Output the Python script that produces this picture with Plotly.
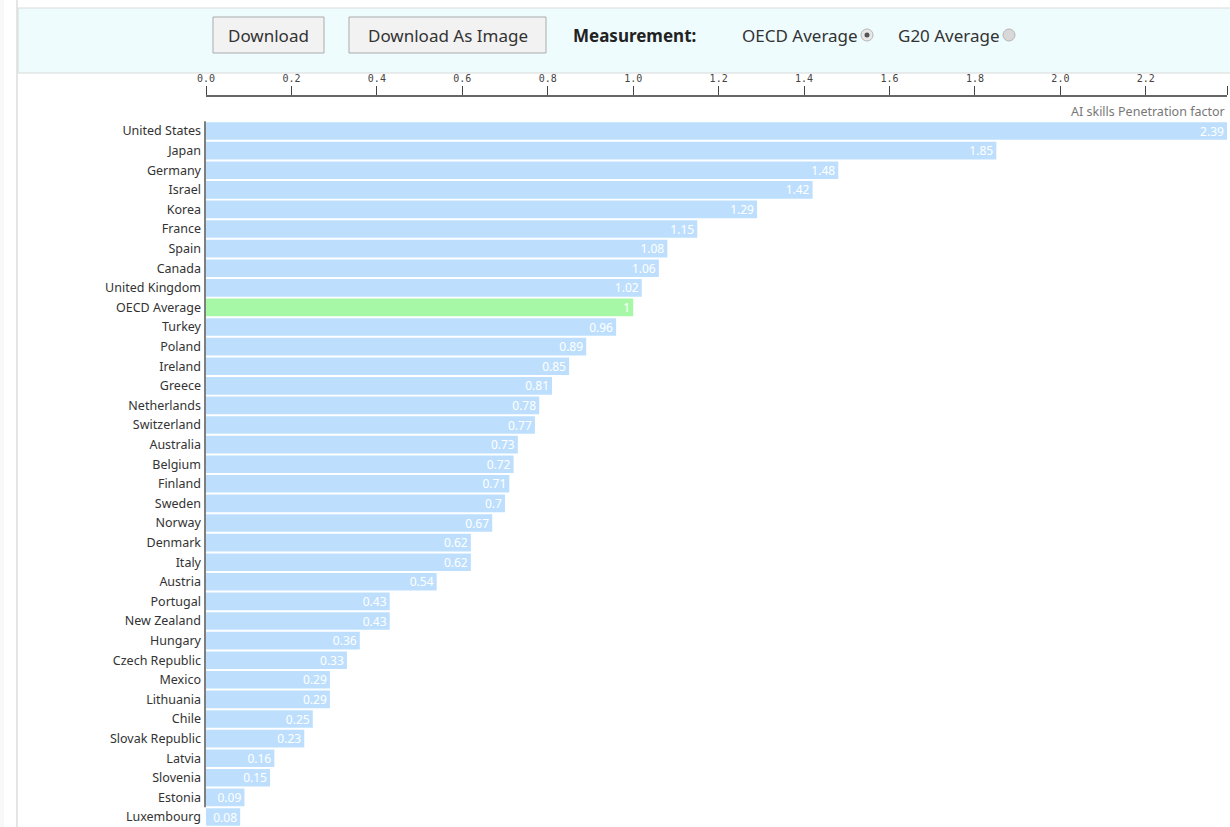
import plotly.graph_objects as go

countries = ["United States", "Japan", "Germany", "Israel", "Korea", "France", "Spain", "Canada",
             "United Kingdom", "OECD Average", "Turkey", "Poland", "Ireland", "Greece", "Netherlands",
             "Switzerland", "Australia", "Belgium", "Finland", "Sweden", "Norway", "Denmark", "Italy",
             "Austria", "Portugal", "New Zealand", "Hungary", "Czech Republic", "Mexico", "Lithuania",
             "Chile", "Slovak Republic", "Latvia", "Slovenia", "Estonia", "Luxembourg"]
values = [2.39, 1.85, 1.48, 1.42, 1.29, 1.15, 1.08, 1.06, 1.02, 1, 0.96, 0.89, 0.85, 0.81, 0.78,
          0.77, 0.73, 0.72, 0.71, 0.7, 0.67, 0.62, 0.62, 0.54, 0.43, 0.43, 0.36, 0.33, 0.29, 0.29,
          0.25, 0.23, 0.16, 0.15, 0.09, 0.08]
value_labels = ["2.39", "1.85", "1.48", "1.42", "1.29", "1.15", "1.08", "1.06", "1.02", "1", "0.96",
                "0.89", "0.85", "0.81", "0.78", "0.77", "0.73", "0.72", "0.71", "0.7", "0.67", "0.62",
                "0.62", "0.54", "0.43", "0.43", "0.36", "0.33", "0.29", "0.29", "0.25", "0.23", "0.16",
                "0.15", "0.09", "0.08"]
tick_vals = [0.0, 0.2, 0.4, 0.6, 0.8, 1.0, 1.2, 1.4, 1.6, 1.8, 2.0, 2.2, 2.39]
tick_text = ["0.0", "0.2", "0.4", "0.6", "0.8", "1.0", "1.2", "1.4", "1.6", "1.8", "2.0", "2.2", ""]
axis_title = "AI skills Penetration factor"
highlight = "OECD Average"

W, H = 1230, 827
L, R, T, B = 206, 3, 97, 0
PW, PH = W - L - R, H - T - B


def px(x):
    return (x - L) / PW


def py(y):
    return 1 - (y - T) / PH


colors = ["#A6F8A6" if c == highlight else "#BDDFFD" for c in countries]

fig = go.Figure(go.Bar(
    x=values, y=countries, orientation="h",
    marker=dict(color=colors, line=dict(width=0)),
    width=0.9,
    text=value_labels, textposition="inside", insidetextanchor="end", textangle=0,
    textfont=dict(color="white", size=12, family="Noto Sans"),
    constraintext="none", cliponaxis=True, hoverinfo="x+y",
))

fig.update_layout(
    width=W, height=H,
    margin=dict(l=L, r=R, t=T, b=B, pad=0),
    paper_bgcolor="white", plot_bgcolor="white",
    showlegend=False,
    font=dict(family="Noto Sans", color="#333"),
    xaxis=dict(
        side="top", range=[0, 2.39], tickvals=tick_vals, ticktext=tick_text,
        ticks="outside", ticklen=9, tickwidth=1, tickcolor="#444",
        showline=True, linecolor="#666", linewidth=1.5,
        showgrid=False, zeroline=False,
        tickfont=dict(family="DejaVu Sans Mono", size=10, color="#444"),
    ),
    yaxis=dict(
        type="category", categoryorder="array", categoryarray=countries,
        range=[35.51, -1.735], showgrid=False, zeroline=False, showline=False,
        ticks="", ticklabelstandoff=4,
        tickfont=dict(family="Noto Sans", size=12.5, color="#333"),
    ),
)

shapes = []
shapes.append(dict(type="rect", xref="paper", yref="paper", x0=px(0), x1=px(4), y0=py(0), y1=py(H),
                   fillcolor="#F8F8F8", line=dict(width=0), layer="below"))
shapes.append(dict(type="line", xref="paper", yref="paper", x0=px(17), x1=px(17), y0=py(0), y1=py(H + 5),
                   line=dict(color="#DDDDDD", width=1.5)))
# toolbar box
shapes.append(dict(type="rect", xref="paper", yref="paper", x0=px(18), x1=px(1240), y0=py(8), y1=py(73),
                   fillcolor="#EEFCFE", line=dict(color="#DADADA", width=1)))
# buttons
for x0, x1 in [(213, 324), (349, 546)]:
    shapes.append(dict(type="rect", xref="paper", yref="paper", x0=px(x0), x1=px(x1), y0=py(17), y1=py(53),
                       fillcolor="#F2F2F2", line=dict(color="#ABABAB", width=1)))
# radio buttons
for cx, checked in [(867, True), (1009, False)]:
    shapes.append(dict(type="circle", xref="paper", yref="paper", x0=px(cx - 6), x1=px(cx + 6),
                       y0=py(29), y1=py(41), fillcolor="#E8E8E8" if checked else "#D8D8D8",
                       line=dict(color="#B5B5B5", width=1)))
    if checked:
        shapes.append(dict(type="circle", xref="paper", yref="paper", x0=px(cx - 2.5), x1=px(cx + 2.5),
                           y0=py(32.5), y1=py(37.5), fillcolor="#555555", line=dict(width=0)))
# y-axis line
shapes.append(dict(type="line", xref="paper", yref="y", x0=px(205), x1=px(205), y0=-0.5, y1=34.5,
                   line=dict(color="#555555", width=1.5)))
fig.update_layout(shapes=shapes)

ann = []
ann.append(dict(text=axis_title, xref="paper", yref="paper", x=1, y=py(112), xanchor="right", yanchor="middle",
                showarrow=False, font=dict(family="Noto Sans", size=12.5, color="#777")))
ann.append(dict(text="Download", xref="paper", yref="paper", x=px(268.5), y=py(35), xanchor="center",
                yanchor="middle", showarrow=False, font=dict(family="Noto Sans", size=17, color="#333")))
ann.append(dict(text="Download As Image", xref="paper", yref="paper", x=px(447.5), y=py(35), xanchor="center",
                yanchor="middle", showarrow=False, font=dict(family="Noto Sans", size=17, color="#333")))
ann.append(dict(text="<b>Measurement:</b>", xref="paper", yref="paper", x=px(571), y=py(35), xanchor="left",
                yanchor="middle", showarrow=False, font=dict(family="Noto Sans", size=17, color="#222")))
ann.append(dict(text="OECD Average", xref="paper", yref="paper", x=px(860), y=py(35), xanchor="right",
                yanchor="middle", showarrow=False, font=dict(family="Noto Sans", size=17, color="#333")))
ann.append(dict(text="G20 Average", xref="paper", yref="paper", x=px(1002), y=py(35), xanchor="right",
                yanchor="middle", showarrow=False, font=dict(family="Noto Sans", size=17, color="#333")))
fig.update_layout(annotations=ann)

fig.write_html("out.html", config={"displayModeBar": False},
               post_script="document.body.style.margin='0';document.body.style.overflow='hidden';")
